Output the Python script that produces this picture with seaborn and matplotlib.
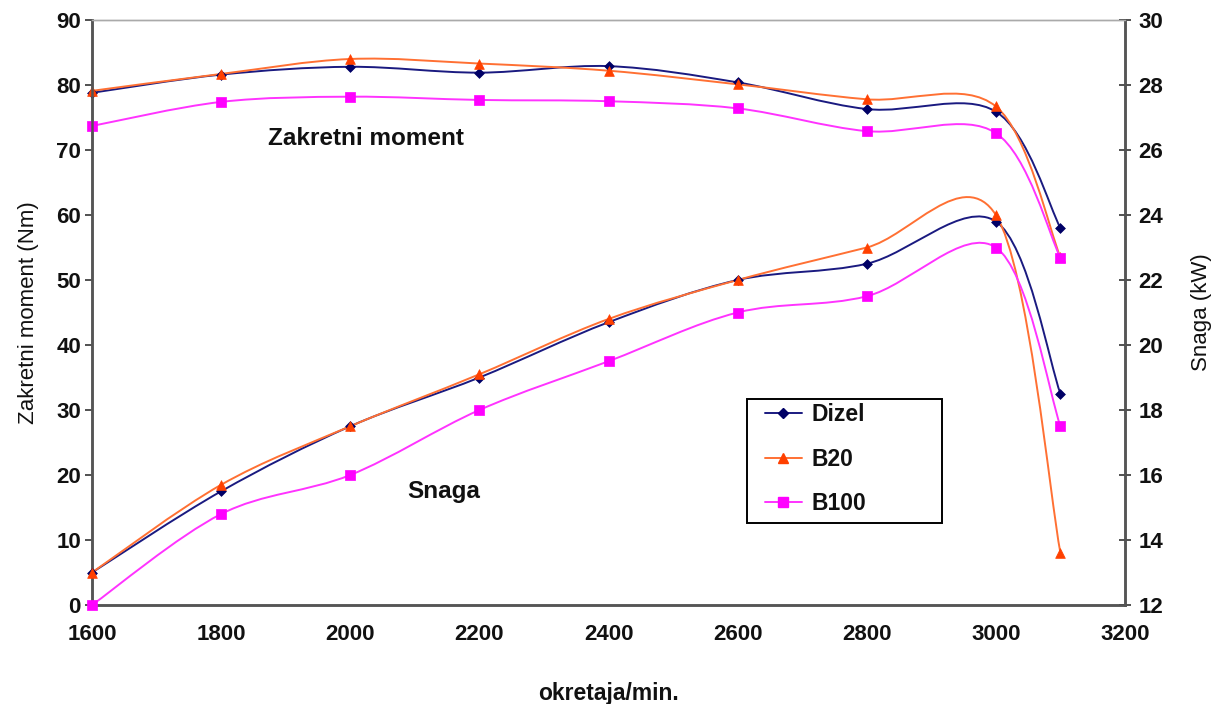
import numpy as np
import pandas as pd
import seaborn as sns
import matplotlib.pyplot as plt
from matplotlib.path import Path
from matplotlib.patches import PathPatch, Rectangle
from matplotlib.lines import Line2D

# data
rpm = [1600, 1800, 2000, 2200, 2400, 2600, 2800, 3000, 3100]
goriva = ["Dizel", "B20", "B100"]

moment_dizel = [78.8, 81.6, 82.8, 81.9, 82.9, 80.4, 76.3, 75.9, 58.0]
moment_b20 = [79.1, 81.7, 84.0, 83.3, 82.2, 80.1, 77.8, 76.7, 53.5]
moment_b100 = [73.7, 77.4, 78.2, 77.7, 77.5, 76.4, 72.9, 72.6, 53.4]

snaga_dizel = [13.0, 15.5, 17.5, 19.0, 20.7, 22.0, 22.5, 23.8, 18.5]
snaga_b20 = [13.0, 15.7, 17.5, 19.1, 20.8, 22.0, 23.0, 24.0, 13.6]
snaga_b100 = [12.0, 14.8, 16.0, 18.0, 19.5, 21.0, 21.5, 23.0, 17.5]

line_colors = {"Dizel": "#1a1a80", "B20": "#ff7033", "B100": "#ff33ff"}
marker_colors = {"Dizel": "#000066", "B20": "#ff4000", "B100": "#ff00ff"}
markers = {"Dizel": "D", "B20": "^", "B100": "s"}
marker_sizes = {"Dizel": 5, "B20": 7, "B100": 6.5}


def smooth_path(xs, ys):
    # Excel-like smoothed line: Catmull-Rom segments as cubic Bezier curves
    pts = list(zip(xs, ys))
    verts = [pts[0]]
    codes = [Path.MOVETO]
    for i in range(len(pts) - 1):
        p0 = pts[max(i - 1, 0)]
        p1 = pts[i]
        p2 = pts[i + 1]
        p3 = pts[min(i + 2, len(pts) - 1)]
        c1 = (p1[0] + (p2[0] - p0[0]) / 6, p1[1] + (p2[1] - p0[1]) / 6)
        c2 = (p2[0] - (p3[0] - p1[0]) / 6, p2[1] - (p3[1] - p1[1]) / 6)
        verts += [c1, c2, p2]
        codes += [Path.CURVE4] * 3
    return Path(verts, codes)


moment = pd.DataFrame({
    "rpm": rpm * 3,
    "gorivo": np.repeat(goriva, len(rpm)),
    "vrijednost": moment_dizel + moment_b20 + moment_b100,
})
snaga = pd.DataFrame({
    "rpm": rpm * 3,
    "gorivo": np.repeat(goriva, len(rpm)),
    "vrijednost": snaga_dizel + snaga_b20 + snaga_b100,
})

sns.set_style("white")
plt.rcParams["font.family"] = ["Liberation Sans", "DejaVu Sans"]

fig = plt.figure(figsize=(12.14, 7.04), dpi=100)
ax = fig.add_axes([0.0758, 0.1406, 0.8509, 0.831])
ax2 = ax.twinx()

for axis, df in [(ax, moment), (ax2, snaga)]:
    for g in goriva:
        sub = df[df["gorivo"] == g]
        patch = PathPatch(smooth_path(sub["rpm"].tolist(), sub["vrijednost"].tolist()),
                          facecolor="none", edgecolor=line_colors[g], lw=1.4,
                          zorder=2, clip_on=False)
        axis.add_patch(patch)
    for g in goriva:
        sub = df[df["gorivo"] == g]
        sns.scatterplot(data=sub, x="rpm", y="vrijednost", ax=axis,
                        marker=markers[g], color=marker_colors[g],
                        s=marker_sizes[g] ** 2, edgecolor=marker_colors[g],
                        linewidth=0.5, legend=False, zorder=3, clip_on=False)

ax.set_xlim(1600, 3200)
ax.set_ylim(0, 90)
ax2.set_ylim(12, 30)
ax.set_xticks(range(1600, 3201, 200))
ax.set_yticks(range(0, 91, 10))
ax2.set_yticks(range(12, 31, 2))

tick_font = dict(fontsize=16, fontweight="bold", color="#111111")
ax.set_xticklabels([str(v) for v in range(1600, 3201, 200)], **tick_font)
ax.set_yticklabels([str(v) for v in range(0, 91, 10)], **tick_font)
ax2.set_yticklabels([str(v) for v in range(12, 31, 2)], **tick_font)

ax.set_xlabel("okretaja/min.", fontsize=16.5, fontweight="bold", color="#111111", labelpad=26)
ax.set_ylabel("Zakretni moment (Nm)", fontsize=16, color="#111111", labelpad=12)
ax2.set_ylabel("Snaga (kW)", fontsize=16, color="#111111", labelpad=20)

for a in (ax, ax2):
    for side in ["left", "bottom", "right"]:
        a.spines[side].set_color("#555555")
        a.spines[side].set_linewidth(1.8)
    a.spines["top"].set_color("#aaaaaa")
    a.spines["top"].set_linewidth(1.0)

ax.tick_params(axis="x", direction="out", length=5, width=1.2, color="#333333", pad=9)
ax.tick_params(axis="y", direction="out", length=5, width=1.2, color="#333333", pad=3)
ax2.tick_params(axis="y", direction="inout", length=9, width=1.2, color="#333333", pad=5)

ax.text(2024, 70.8, "Zakretni moment", ha="center", va="baseline",
        fontsize=17.5, fontweight="bold", color="#111111")
ax.text(2144, 16.5, "Snaga", ha="center", va="baseline",
        fontsize=17.5, fontweight="bold", color="#111111")

# legend box drawn separately so the padding matches the reference
ax2.add_patch(Rectangle((0.634, 0.140), 0.189, 0.212, transform=ax2.transAxes,
                        facecolor="white", edgecolor="black", lw=1.4, zorder=4))
handles = [Line2D([0], [0], color=line_colors[g], lw=1.4, marker=markers[g],
                  markersize=marker_sizes[g], markerfacecolor=marker_colors[g],
                  markeredgecolor=marker_colors[g]) for g in goriva]
leg = ax2.legend(handles, goriva, loc="upper left", bbox_to_anchor=(0.6515, 0.3445),
                 frameon=False, prop={"size": 16.5, "weight": "bold"},
                 labelspacing=0.93, handlelength=1.6, handletextpad=0.45,
                 borderpad=0, borderaxespad=0)
leg.set_zorder(5)
for t in leg.get_texts():
    t.set_color("#111111")

fig.savefig("out.png", dpi=100)
